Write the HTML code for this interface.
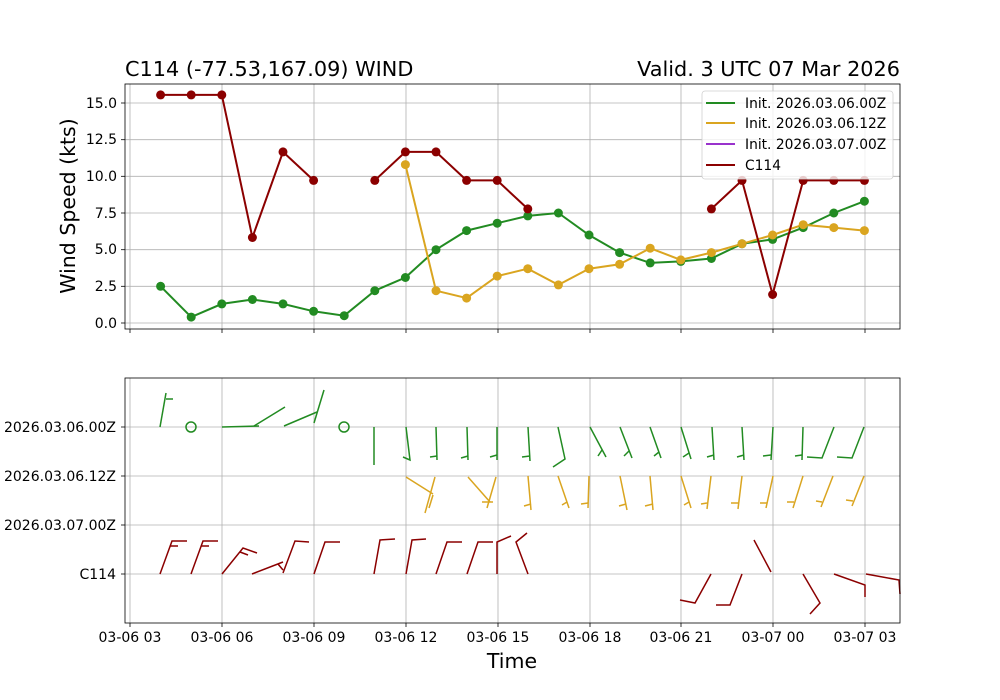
<!DOCTYPE html>
<html><head><meta charset="utf-8"><style>
html,body{margin:0;padding:0;background:#fff;}
svg{display:block;font-family:"DejaVu Sans","Liberation Sans",sans-serif;}
</style></head><body>
<svg width="1000" height="700" viewBox="0 0 1000 700" xmlns="http://www.w3.org/2000/svg">
<rect width="1000" height="700" fill="#fff"/>
<!-- TOP AXES -->
<g stroke="#b0b0b0" stroke-width="0.8">
<line x1="130" y1="84" x2="130" y2="329"/><line x1="222" y1="84" x2="222" y2="329"/><line x1="314" y1="84" x2="314" y2="329"/><line x1="406" y1="84" x2="406" y2="329"/><line x1="498" y1="84" x2="498" y2="329"/><line x1="590" y1="84" x2="590" y2="329"/><line x1="681" y1="84" x2="681" y2="329"/><line x1="773" y1="84" x2="773" y2="329"/><line x1="865" y1="84" x2="865" y2="329"/>
<line x1="125" y1="323" x2="900" y2="323"/><line x1="125" y1="286.3" x2="900" y2="286.3"/><line x1="125" y1="249.7" x2="900" y2="249.7"/><line x1="125" y1="213" x2="900" y2="213"/><line x1="125" y1="176.3" x2="900" y2="176.3"/><line x1="125" y1="139.7" x2="900" y2="139.7"/><line x1="125" y1="103" x2="900" y2="103"/>
</g>
<g stroke="#000" stroke-width="0.8">
<line x1="121" y1="323" x2="125" y2="323"/><line x1="121" y1="286.3" x2="125" y2="286.3"/><line x1="121" y1="249.7" x2="125" y2="249.7"/><line x1="121" y1="213" x2="125" y2="213"/><line x1="121" y1="176.3" x2="125" y2="176.3"/><line x1="121" y1="139.7" x2="125" y2="139.7"/><line x1="121" y1="103" x2="125" y2="103"/>
<line x1="130" y1="329" x2="130" y2="333"/><line x1="222" y1="329" x2="222" y2="333"/><line x1="314" y1="329" x2="314" y2="333"/><line x1="406" y1="329" x2="406" y2="333"/><line x1="498" y1="329" x2="498" y2="333"/><line x1="590" y1="329" x2="590" y2="333"/><line x1="681" y1="329" x2="681" y2="333"/><line x1="773" y1="329" x2="773" y2="333"/><line x1="865" y1="329" x2="865" y2="333"/>
</g>
<g font-size="14" text-anchor="end" fill="#000">
<text x="117" y="328">0.0</text><text x="117" y="291">2.5</text><text x="117" y="254">5.0</text><text x="117" y="218">7.5</text><text x="117" y="181">10.0</text><text x="117" y="144">12.5</text><text x="117" y="108">15.0</text>
</g>
<text x="75" y="206" font-size="20.5" text-anchor="middle" transform="rotate(-90 75 206)">Wind Speed (kts)</text>
<text x="125" y="76" font-size="20.8">C114 (-77.53,167.09) WIND</text>
<text x="900" y="76" font-size="20.8" text-anchor="end">Valid. 3 UTC 07 Mar 2026</text>

<!-- series -->
<g fill="none" stroke-width="2">
<polyline stroke="#228b22" points="160.6,286.3 191.2,317.1 221.8,303.9 252.4,299.5 283,303.9 313.6,311.3 344.2,315.7 374.8,290.7 405.4,277.5 436,249.7 466.6,230.6 497.2,223.2 527.8,215.9 558.4,213 589,235 619.6,252.6 650.2,262.9 680.8,261.4 711.4,258.5 742,243.8 772.6,239.4 803.2,227.6 833.8,213 864.4,201.2"/>
<polyline stroke="#daa520" points="405.4,164.6 436,290.7 466.6,298.1 497.2,276.1 527.8,268.7 558.4,284.9 589,268.7 619.6,264.3 650.2,248.2 680.8,259.9 711.4,252.6 742,243.8 772.6,235 803.2,224.7 833.8,227.6 864.4,230.6"/>
<polyline stroke="#8b0000" points="160.6,94.9 191.2,94.9 221.8,94.9 252.4,237.5 283,151.9 313.6,180.4"/>
<polyline stroke="#8b0000" points="374.8,180.4 405.4,151.9 436,151.9 466.6,180.4 497.2,180.4 527.8,208.9"/>
<polyline stroke="#8b0000" points="711.4,208.9 742,180.4 772.6,294.5 803.2,180.4 833.8,180.4 864.4,180.4"/>
</g>
<g fill="#228b22">
<circle cx="160.6" cy="286.3" r="4.5"/><circle cx="191.2" cy="317.1" r="4.5"/><circle cx="221.8" cy="303.9" r="4.5"/><circle cx="252.4" cy="299.5" r="4.5"/><circle cx="283" cy="303.9" r="4.5"/><circle cx="313.6" cy="311.3" r="4.5"/><circle cx="344.2" cy="315.7" r="4.5"/><circle cx="374.8" cy="290.7" r="4.5"/><circle cx="405.4" cy="277.5" r="4.5"/><circle cx="436" cy="249.7" r="4.5"/><circle cx="466.6" cy="230.6" r="4.5"/><circle cx="497.2" cy="223.2" r="4.5"/><circle cx="527.8" cy="215.9" r="4.5"/><circle cx="558.4" cy="213" r="4.5"/><circle cx="589" cy="235" r="4.5"/><circle cx="619.6" cy="252.6" r="4.5"/><circle cx="650.2" cy="262.9" r="4.5"/><circle cx="680.8" cy="261.4" r="4.5"/><circle cx="711.4" cy="258.5" r="4.5"/><circle cx="742" cy="243.8" r="4.5"/><circle cx="772.6" cy="239.4" r="4.5"/><circle cx="803.2" cy="227.6" r="4.5"/><circle cx="833.8" cy="213" r="4.5"/><circle cx="864.4" cy="201.2" r="4.5"/>
</g>
<g fill="#daa520">
<circle cx="405.4" cy="164.6" r="4.5"/><circle cx="436" cy="290.7" r="4.5"/><circle cx="466.6" cy="298.1" r="4.5"/><circle cx="497.2" cy="276.1" r="4.5"/><circle cx="527.8" cy="268.7" r="4.5"/><circle cx="558.4" cy="284.9" r="4.5"/><circle cx="589" cy="268.7" r="4.5"/><circle cx="619.6" cy="264.3" r="4.5"/><circle cx="650.2" cy="248.2" r="4.5"/><circle cx="680.8" cy="259.9" r="4.5"/><circle cx="711.4" cy="252.6" r="4.5"/><circle cx="742" cy="243.8" r="4.5"/><circle cx="772.6" cy="235" r="4.5"/><circle cx="803.2" cy="224.7" r="4.5"/><circle cx="833.8" cy="227.6" r="4.5"/><circle cx="864.4" cy="230.6" r="4.5"/>
</g>
<g fill="#8b0000">
<circle cx="160.6" cy="94.9" r="4.5"/><circle cx="191.2" cy="94.9" r="4.5"/><circle cx="221.8" cy="94.9" r="4.5"/><circle cx="252.4" cy="237.5" r="4.5"/><circle cx="283" cy="151.9" r="4.5"/><circle cx="313.6" cy="180.4" r="4.5"/><circle cx="374.8" cy="180.4" r="4.5"/><circle cx="405.4" cy="151.9" r="4.5"/><circle cx="436" cy="151.9" r="4.5"/><circle cx="466.6" cy="180.4" r="4.5"/><circle cx="497.2" cy="180.4" r="4.5"/><circle cx="527.8" cy="208.9" r="4.5"/><circle cx="711.4" cy="208.9" r="4.5"/><circle cx="742" cy="180.4" r="4.5"/><circle cx="772.6" cy="294.5" r="4.5"/><circle cx="803.2" cy="180.4" r="4.5"/><circle cx="833.8" cy="180.4" r="4.5"/><circle cx="864.4" cy="180.4" r="4.5"/>
</g>
<rect x="125" y="84" width="775" height="245" fill="none" stroke="#000" stroke-width="0.8"/>

<!-- legend -->
<rect x="702" y="91" width="191" height="88" rx="3" fill="#fff" fill-opacity="0.8" stroke="#d0d0d0" stroke-width="0.8"/>
<g stroke-width="2">
<line x1="706" y1="103" x2="735" y2="103" stroke="#228b22"/>
<line x1="706" y1="123" x2="735" y2="123" stroke="#daa520"/>
<line x1="706" y1="144" x2="735" y2="144" stroke="#9932cc"/>
<line x1="706" y1="165" x2="735" y2="165" stroke="#8b0000"/>
</g>
<g font-size="13.8">
<text x="745" y="108">Init. 2026.03.06.00Z</text>
<text x="745" y="128">Init. 2026.03.06.12Z</text>
<text x="745" y="149">Init. 2026.03.07.00Z</text>
<text x="745" y="170">C114</text>
</g>

<!-- BOTTOM AXES -->
<g stroke="#b0b0b0" stroke-width="0.8">
<line x1="130" y1="378" x2="130" y2="623"/><line x1="222" y1="378" x2="222" y2="623"/><line x1="314" y1="378" x2="314" y2="623"/><line x1="406" y1="378" x2="406" y2="623"/><line x1="498" y1="378" x2="498" y2="623"/><line x1="590" y1="378" x2="590" y2="623"/><line x1="681" y1="378" x2="681" y2="623"/><line x1="773" y1="378" x2="773" y2="623"/><line x1="865" y1="378" x2="865" y2="623"/>
<line x1="125" y1="427" x2="900" y2="427"/><line x1="125" y1="476" x2="900" y2="476"/><line x1="125" y1="525" x2="900" y2="525"/><line x1="125" y1="574" x2="900" y2="574"/>
</g>
<g stroke="#000" stroke-width="0.8">
<line x1="121" y1="427" x2="125" y2="427"/><line x1="121" y1="476" x2="125" y2="476"/><line x1="121" y1="525" x2="125" y2="525"/><line x1="121" y1="574" x2="125" y2="574"/>
<line x1="130" y1="623" x2="130" y2="627"/><line x1="222" y1="623" x2="222" y2="627"/><line x1="314" y1="623" x2="314" y2="627"/><line x1="406" y1="623" x2="406" y2="627"/><line x1="498" y1="623" x2="498" y2="627"/><line x1="590" y1="623" x2="590" y2="627"/><line x1="681" y1="623" x2="681" y2="627"/><line x1="773" y1="623" x2="773" y2="627"/><line x1="865" y1="623" x2="865" y2="627"/>
</g>
<g font-size="14" text-anchor="end">
<text x="116" y="432">2026.03.06.00Z</text><text x="116" y="481">2026.03.06.12Z</text><text x="116" y="530">2026.03.07.00Z</text><text x="116" y="579">C114</text>
</g>
<g font-size="14" text-anchor="middle">
<text x="130" y="642">03-06 03</text><text x="222" y="642">03-06 06</text><text x="314" y="642">03-06 09</text><text x="406" y="642">03-06 12</text><text x="498" y="642">03-06 15</text><text x="590" y="642">03-06 18</text><text x="681" y="642">03-06 21</text><text x="773" y="642">03-07 00</text><text x="865" y="642">03-07 03</text>
</g>
<text x="512" y="668" font-size="20.5" text-anchor="middle">Time</text>

<!-- barbs green -->
<g fill="none" stroke="#228b22" stroke-width="1.5">
<polyline points="160,427 166,393"/><line x1="166" y1="399" x2="173" y2="399"/>
<circle cx="191" cy="427" r="5"/>
<polyline points="222,427 259,426"/><line x1="254" y1="426" x2="285" y2="407"/>
<line x1="284" y1="426" x2="317" y2="412"/><line x1="314" y1="423" x2="324" y2="390"/>
<circle cx="344" cy="427" r="5"/>
<line x1="374" y1="427" x2="374" y2="465"/>
<polyline points="406,427 410,460 403,457"/>
<polyline points="436,427 437,460"/><line x1="437" y1="456" x2="430" y2="457"/>
<polyline points="467,427 468,460"/><line x1="468" y1="456" x2="461" y2="458"/>
<polyline points="497,427 497,460"/><line x1="497" y1="455" x2="490" y2="457"/>
<polyline points="528,427 530,461"/><line x1="530" y1="456" x2="522" y2="457"/>
<polyline points="558,427 565,459 553,467"/>
<polyline points="590,427 606,457"/><line x1="602" y1="450" x2="598" y2="456"/>
<polyline points="620,427 632,458"/><line x1="629" y1="451" x2="624" y2="456"/>
<polyline points="650,427 661,458"/><line x1="659" y1="452" x2="654" y2="456"/>
<polyline points="681,427 691,459"/><line x1="689" y1="453" x2="683" y2="457"/>
<polyline points="712,427 714,460"/><line x1="714" y1="455" x2="707" y2="457"/>
<polyline points="742,427 744,460"/><line x1="744" y1="455" x2="737" y2="457"/>
<polyline points="773,427 771,460"/><line x1="771" y1="455" x2="763" y2="456"/>
<polyline points="803,427 802,460"/><line x1="802" y1="455" x2="795" y2="456"/>
<polyline points="834,427 822,458 807,457"/>
<polyline points="864,427 852,458 837,457"/>
</g>
<!-- barbs orange -->
<g fill="none" stroke="#daa520" stroke-width="1.5">
<line x1="406" y1="477" x2="433" y2="494"/><line x1="435" y1="477" x2="425" y2="513"/><line x1="433" y1="495" x2="429" y2="508"/>
<line x1="468" y1="477" x2="490" y2="502"/><line x1="496" y1="477" x2="487" y2="508"/><line x1="482" y1="502" x2="493" y2="502"/>
<polyline points="528,476 531,510"/><line x1="531" y1="504" x2="524" y2="506"/>
<polyline points="558,476 569,508"/><line x1="567" y1="502" x2="562" y2="505"/>
<polyline points="589,476 588,508"/><line x1="588" y1="503" x2="581" y2="504"/>
<polyline points="620,476 627,510"/><line x1="626" y1="504" x2="619" y2="506"/>
<polyline points="650,476 653,510"/><line x1="653" y1="504" x2="645" y2="506"/>
<polyline points="681,476 691,508"/><line x1="689" y1="502" x2="684" y2="505"/>
<polyline points="711,476 707,509"/><line x1="707" y1="503" x2="701" y2="504"/>
<polyline points="742,476 738,509"/><line x1="738" y1="503" x2="731" y2="503"/>
<polyline points="773,476 766,508"/><line x1="767" y1="503" x2="760" y2="503"/>
<polyline points="803,476 793,508"/><line x1="794" y1="502" x2="787" y2="502"/>
<polyline points="833,476 821,507"/><line x1="822" y1="502" x2="816" y2="501"/>
<polyline points="864,476 852,506"/><line x1="853" y1="501" x2="846" y2="500"/>
</g>
<!-- barbs red -->
<g fill="none" stroke="#8b0000" stroke-width="1.5">
<polyline points="160,574 172,541 187,541"/><line x1="170" y1="546" x2="178" y2="546"/>
<polyline points="191,574 203,541 218,541"/><line x1="201" y1="546" x2="209" y2="546"/>
<polyline points="222,574 243,548 257,553"/><line x1="240" y1="552" x2="248" y2="555"/>
<polyline points="252,574 283,562"/><polyline points="283,573 295,541 309,542"/><line x1="278" y1="564" x2="283" y2="570"/>
<polyline points="314,574 325,542 340,542"/>
<polyline points="374,574 380,540 395,539"/>
<polyline points="406,574 412,540 426,539"/>
<polyline points="436,574 447,542 462,542"/>
<polyline points="467,574 478,542 493,542"/>
<polyline points="497,574 497,542 511,536"/>
<polyline points="528,574 516,542 527,533"/>
<polyline points="711,574 695,603 680,600"/>
<polyline points="742,574 730,605 716,605"/>
<line x1="771" y1="572" x2="754" y2="540"/>
<polyline points="803,574 820,603 810,614"/>
<polyline points="834,574 865,585 865,597"/>
<polyline points="866,574 899,580 900,594"/>
</g>
<rect x="125" y="378" width="775" height="245" fill="none" stroke="#000" stroke-width="0.8"/>
</svg>
</body></html>
